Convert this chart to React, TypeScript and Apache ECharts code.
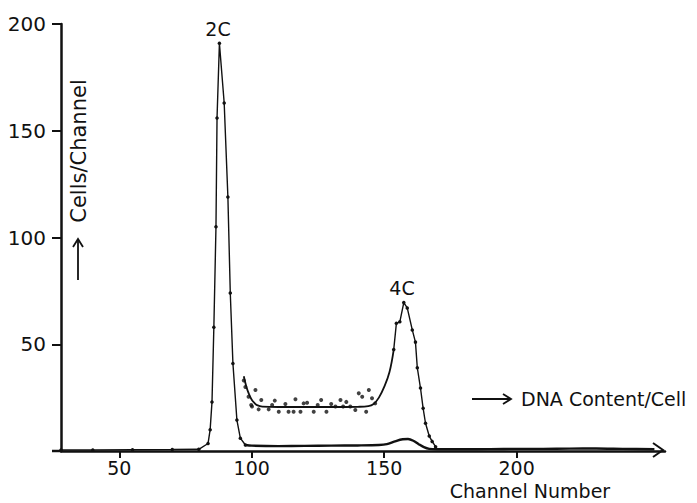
import React, { useEffect, useRef } from "react";
import * as echarts from "echarts";

const xTicks = [50, 100, 150, 200];
const yTicks = [50, 100, 150, 200];

// dotted histogram trace through the 2C peak
const peak2C: [number, number][] = [
  [28, 0.5], [40, 0.5], [55, 0.6], [70, 0.7], [80, 0.8], [83.5, 3.5],
  [84.3, 10], [85, 23], [85.7, 58], [86.5, 105], [86.9, 156], [87.8, 191],
  [89.6, 163], [91, 119], [91.9, 74], [92.9, 41], [94.4, 14.5], [95.7, 6], [97.6, 2.8],
];

// lower solid trace after the 2C peak
const lowerTrace: [number, number][] = [
  [97.6, 2.8], [100, 2.5], [110, 2.3], [120, 2.4], [130, 2.5], [140, 2.6],
  [148, 2.8], [151, 3.2], [154, 4.5], [157, 5.5], [159, 5.6], [161, 4.8],
  [163, 3.2], [165, 1.8], [167, 1], [170, 0.8], [180, 0.8], [190, 0.9],
  [200, 1], [210, 1], [220, 1.1], [230, 1.2], [240, 1], [252, 0.8],
];

// expanded scatter between the peaks
const plateauDots: [number, number][] = [
  [97, 33], [97.6, 30], [98.8, 25.4], [99.8, 21.5], [100.1, 20.8], [101.4, 28.6],
  [102.6, 19.5], [103.6, 23.9], [106.4, 19.5], [107.7, 21.5], [108.7, 23.6],
  [110.2, 18.4], [112.7, 22], [113.9, 18.4], [115.8, 18.4], [116.5, 24.2],
  [118.4, 18.4], [119.6, 22.3], [120.9, 22.6], [123.4, 18.4], [124.9, 21.5],
  [126.2, 23.9], [128.2, 18.4], [130, 22], [131.6, 20.8], [133.5, 23.9],
  [134.5, 20.8], [135.7, 23], [137.2, 20.8], [139.1, 19.2], [140.4, 27],
  [141.7, 25.4], [143.2, 18.4], [144.2, 28.6], [145.4, 24.7], [146.6, 22.3],
];

// fitted solid curve through the scatter
const fitCurve: [number, number][] = [
  [97, 35], [98, 30], [99, 26.5], [100, 24], [101, 22.5], [102, 21.5],
  [104, 20.8], [110, 20.6], [120, 20.6], [130, 20.6], [140, 20.7], [144, 21],
  [146, 22], [148, 25], [150, 30], [152, 37], [153.6, 47.5],
];

// dotted trace of the 4C peak
const peak4C: [number, number][] = [
  [153.6, 47.5], [154.6, 59.8], [155.9, 60.5], [157.4, 69.5], [158.7, 67],
  [160.6, 56.7], [161.8, 51], [162.5, 39], [163.7, 29.5], [164.7, 20],
  [165.6, 13], [167, 7], [168.1, 4.5], [169.4, 2],
];

const FONT = "DejaVu Sans";
const INK = "#111";

export default function App() {
  const ref = useRef<HTMLDivElement>(null);
  useEffect(() => {
    if (!ref.current) return;
    const chart = echarts.init(ref.current, undefined, { renderer: "svg" });
    chart.setOption({
      animation: false,
      backgroundColor: "#fff",
      grid: { left: 61, right: 32, top: 24, bottom: 52 },
      xAxis: {
        type: "value",
        min: 28,
        max: 256,
        splitLine: { show: false },
        axisLine: { lineStyle: { color: INK, width: 2.5 } },
        axisTick: { customValues: xTicks, length: 7, lineStyle: { color: INK, width: 2 } },
        axisLabel: { customValues: xTicks, margin: 7, color: INK, fontSize: 19, lineHeight: 19, fontFamily: FONT },
      },
      yAxis: {
        type: "value",
        min: 0,
        max: 200,
        splitLine: { show: false },
        axisLine: { show: true, lineStyle: { color: INK, width: 2.5 } },
        axisTick: { show: true, customValues: yTicks, length: 9, lineStyle: { color: INK, width: 2 } },
        axisLabel: { customValues: yTicks, margin: 15, color: INK, fontSize: 20, fontFamily: FONT },
      },
      series: [
        {
          type: "line", data: peak2C, symbol: "circle", symbolSize: 3.5, showSymbol: true,
          lineStyle: { color: INK, width: 1.4 }, itemStyle: { color: INK },
        },
        {
          type: "line", data: lowerTrace, symbol: "none", smooth: 0.3,
          lineStyle: { color: INK, width: 2.4 },
        },
        {
          type: "scatter", data: plateauDots, symbol: "circle", symbolSize: 4,
          itemStyle: { color: INK },
        },
        {
          type: "line", data: fitCurve, symbol: "none", smooth: 0.4,
          lineStyle: { color: INK, width: 1.8 },
        },
        {
          type: "line", data: peak4C, symbol: "circle", symbolSize: 3.5,
          lineStyle: { color: INK, width: 1.4 }, itemStyle: { color: INK },
        },
      ],
      graphic: [
        { type: "line", shape: { x1: 52, y1: 451, x2: 62, y2: 451 }, style: { stroke: INK, lineWidth: 2.5 } },
        { type: "polyline", shape: { points: [[653, 443], [663, 450], [653, 457]] }, style: { stroke: INK, lineWidth: 2, fill: null } },
        { type: "text", x: 218, y: 29, style: { text: "2C", font: `19px "${FONT}"`, fill: INK, align: "center", verticalAlign: "middle" } },
        { type: "text", x: 402, y: 288, style: { text: "4C", font: `19px "${FONT}"`, fill: INK, align: "center", verticalAlign: "middle" } },
        { type: "text", x: 79, y: 151, rotation: Math.PI / 2, style: { text: "Cells/Channel", font: `21px "${FONT}"`, fill: INK, align: "center", verticalAlign: "middle" } },
        { type: "line", shape: { x1: 78, y1: 280, x2: 78, y2: 239 }, style: { stroke: INK, lineWidth: 1.8 } },
        { type: "polyline", shape: { points: [[73, 247], [78, 239], [83, 247]] }, style: { stroke: INK, lineWidth: 1.8, fill: null } },
        { type: "line", shape: { x1: 472, y1: 399, x2: 511, y2: 399 }, style: { stroke: INK, lineWidth: 1.8 } },
        { type: "polyline", shape: { points: [[503, 394], [511, 399], [503, 404]] }, style: { stroke: INK, lineWidth: 1.8, fill: null } },
        { type: "text", x: 521, y: 399, style: { text: "DNA Content/Cell", font: `19px "${FONT}"`, fill: INK, align: "left", verticalAlign: "middle" } },
        { type: "text", x: 530, y: 491, style: { text: "Channel Number", font: `19px "${FONT}"`, lineHeight: 19, fill: INK, align: "center", verticalAlign: "middle" } },
      ],
    });
    return () => chart.dispose();
  }, []);
  return <div ref={ref} style={{ width: 697, height: 503, position: "absolute", left: 0, top: 0 }} />;
}
